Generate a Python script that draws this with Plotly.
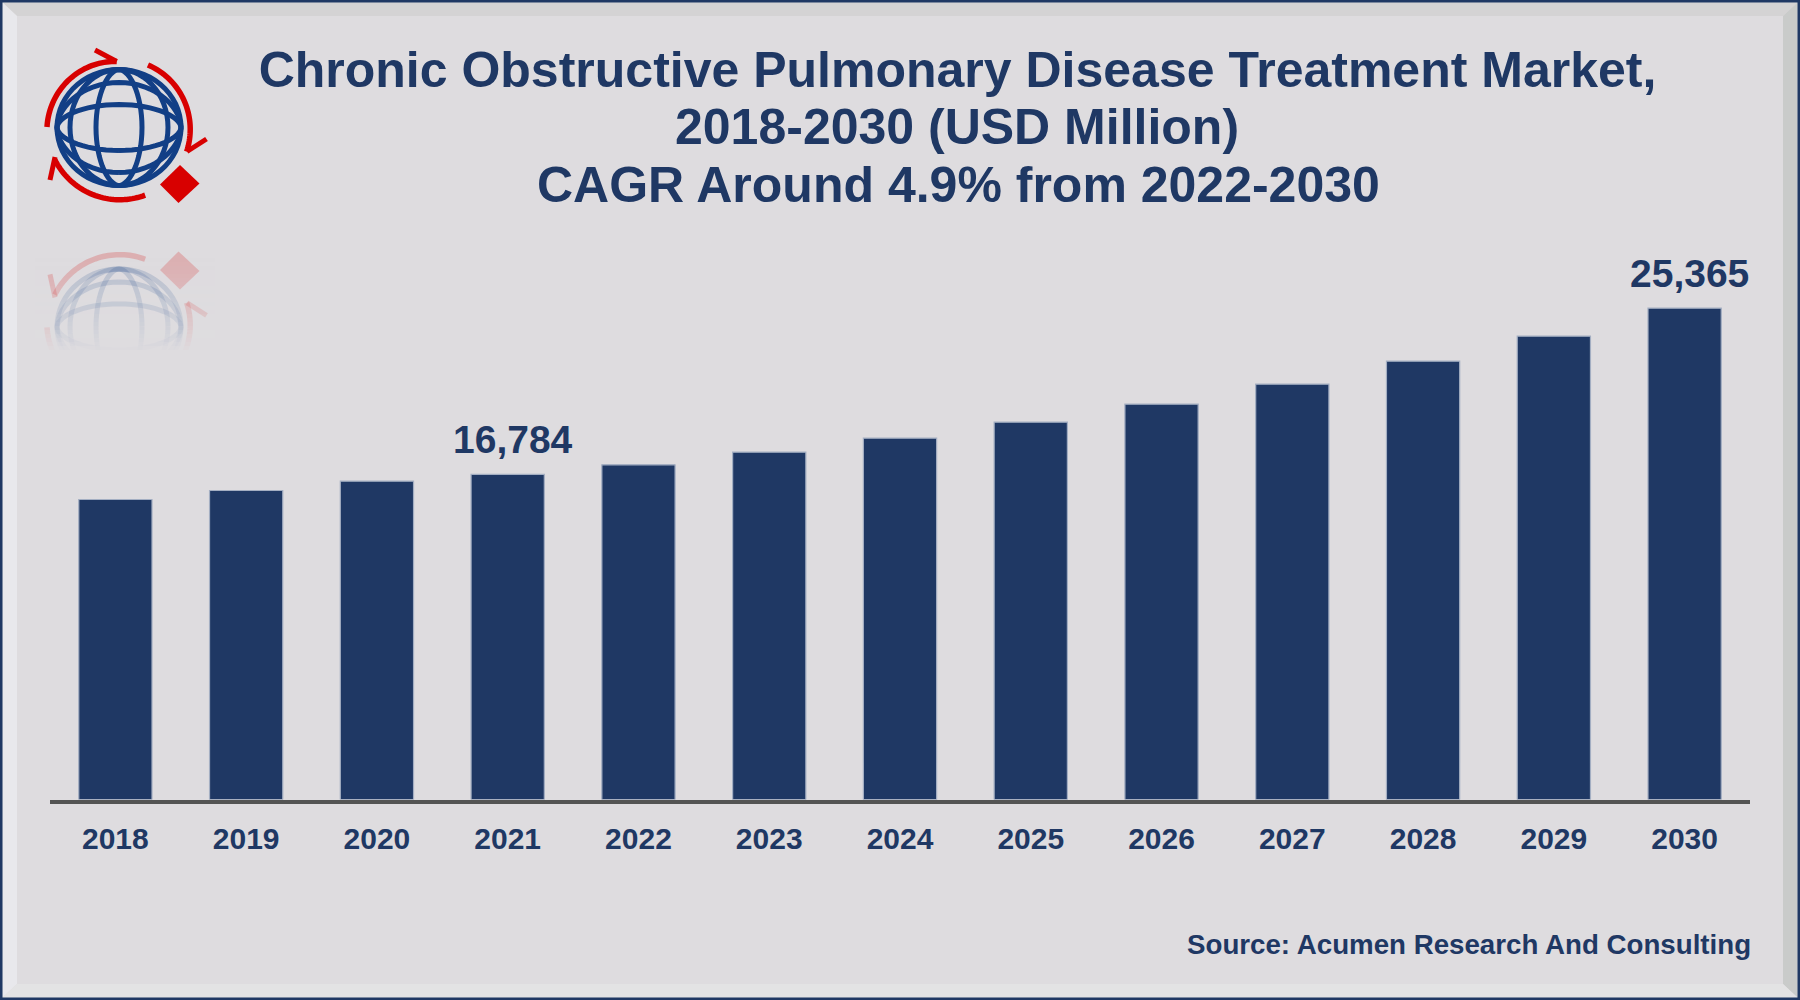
import math
import plotly.graph_objects as go

years = ["2018", "2019", "2020", "2021", "2022", "2023", "2024", "2025", "2026", "2027", "2028", "2029", "2030"]
market_values = [15488, 15953, 16433, 16784, 17280, 17930, 18653, 19480, 20409, 21441, 22629, 23920, 25365]
labelled_years = ["2021", "2030"]
title_lines = ["Chronic Obstructive Pulmonary Disease Treatment Market,",
               "2018-2030 (USD Million)",
               "CAGR Around 4.9% from 2022-2030"]
source_text = "Source: Acumen Research And Consulting"

NAVY = "#1F3864"
BG = "#DEDCDF"
GLOBE = "#123F86"
RED = "#D80000"
W, H = 1800, 1000
FONT = "Liberation Sans"


def px(x):
    return x / W


def py(y):
    return 1 - y / H


def path(points, close=False):
    s = "M " + " L ".join(f"{px(x):.5f},{py(y):.5f}" for x, y in points)
    return s + (" Z" if close else "")


def ell(cx, cy, rx, ry):
    return [(cx + rx * math.cos(math.radians(a)), cy + ry * math.sin(math.radians(a))) for a in range(0, 361, 6)]


def lens(cx, cy, rx, ry, vertical=True):
    pts = []
    for a in range(0, 361, 6):
        c, s = math.cos(math.radians(a)), math.sin(math.radians(a))
        bulge = abs(c) ** 1.1 * (1 if c >= 0 else -1)
        if vertical:
            pts.append((cx + rx * bulge, cy + ry * s))
        else:
            pts.append((cx + rx * s, cy + ry * bulge))
    return pts


def arc(cx, cy, r0, r1, a0, a1, n=40):
    pts = []
    for i in range(n + 1):
        t = i / n
        r = r0 + (r1 - r0) * t
        a = math.radians(a0 + (a1 - a0) * t)
        pts.append((cx + r * math.cos(a), cy - r * math.sin(a)))
    return pts


def logo_shapes(mirror=None, blue_op=1.0, red_op=1.0):
    m = (lambda p: [(x, mirror - y) for x, y in p]) if mirror else (lambda p: p)
    cx, cy = 119, 127.5
    out = []

    def line(pts, color, width, op):
        out.append(dict(type="path", xref="paper", yref="paper", path=path(m(pts)),
                        line=dict(color=color, width=width), opacity=op))

    line(ell(cx, cy, 62, 58), GLOBE, 5, blue_op)
    line(ell(cx, cy, 49, 58), GLOBE, 5, blue_op)
    line(lens(cx, cy, 23, 58), GLOBE, 5, blue_op)
    line(lens(cx, cy, 62, 45, vertical=False), GLOBE, 5, blue_op)
    line(lens(cx, cy, 62, 23, vertical=False), GLOBE, 5, blue_op)
    line(arc(119, 127, 72, 65.5, 180, 92), RED, 5.5, red_op)
    line([(95, 50), (116.7, 61.5)], RED, 5, red_op)
    line(arc(119, 127, 68.5, 72, 65, -20), RED, 5.5, red_op)
    line([(206.5, 139), (187, 151.5)], RED, 5, red_op)
    line(arc(119, 127, 73, 72, -69, -153), RED, 5.5, red_op)
    line([(50, 180), (55, 157)], RED, 5, red_op)
    out.append(dict(type="path", xref="paper", yref="paper",
                    path=path(m([(180, 165), (199.5, 183.5), (178.5, 203), (160, 184.5)]), True),
                    fillcolor=RED, line=dict(width=0), opacity=red_op))
    return out


def poly(points, color):
    return dict(type="path", xref="paper", yref="paper", path=path(points, True),
                fillcolor=color, line=dict(width=0))


shapes = [
    poly([(2.5, 2.5), (W - 2.5, 2.5), (W - 17, 16), (17, 16)], "#D4D3D4"),
    poly([(2.5, 2.5), (17, 16), (17, H - 16), (2.5, H - 2.5)], "#E8E8EC"),
    poly([(W - 2.5, 2.5), (W - 17, 16), (W - 17, H - 16), (W - 2.5, H - 2.5)], "#C9CBCA"),
    poly([(2.5, H - 2.5), (17, H - 16), (W - 17, H - 16), (W - 2.5, H - 2.5)], "#E3E3E4"),
    poly([(0, 0), (W, 0), (W, 2.5), (0, 2.5)], NAVY),
    poly([(0, H), (W, H), (W, H - 2.5), (0, H - 2.5)], NAVY),
    poly([(0, 0), (2.5, 0), (2.5, H), (0, H)], NAVY),
    poly([(W, 0), (W - 2.5, 0), (W - 2.5, H), (W, H)], NAVY),
]
shapes += logo_shapes()
shapes += logo_shapes(mirror=454.4, blue_op=0.17, red_op=0.2)
# fade-out of the reflection
for i in range(26):
    y0 = 250 + i * 4
    shapes.append(dict(type="rect", xref="paper", yref="paper", x0=px(35), x1=px(215),
                       y0=py(y0), y1=py(y0 + 4), fillcolor=BG, line=dict(width=0),
                       opacity=min(1, (i / 25) ** 1.6)))
shapes.append(dict(type="rect", xref="paper", yref="paper", x0=px(35), x1=px(215),
                   y0=py(353), y1=py(425), fillcolor=BG, line=dict(width=0)))

fig = go.Figure(go.Bar(
    x=years, y=market_values, width=0.56,
    marker=dict(color=NAVY, line=dict(color="#A3AEC2", width=1.2)),
    hoverinfo="skip",
))

annotations = [
    dict(x=years.index(yr), y=market_values[years.index(yr)], xref="x", yref="y",
         text=f"{market_values[years.index(yr)]:,}",
         showarrow=False, xshift=5, yshift=35, yanchor="middle",
         font=dict(family=FONT, size=39, color=NAVY, weight="bold"))
    for yr in labelled_years
]
annotations.append(dict(x=px(1753), y=py(944), xref="paper", yref="paper", text=source_text, showarrow=False,
                        xanchor="right", yanchor="middle",
                        font=dict(family=FONT, size=27.7, color=NAVY, weight="bold")))
for line_text, xc, yc in zip(title_lines[1:], [957, 958], [127, 184.5]):
    annotations.append(dict(x=px(xc), y=py(yc), xref="paper", yref="paper", text=line_text, showarrow=False,
                            xanchor="center", yanchor="middle",
                            font=dict(family=FONT, size=50, color=NAVY, weight="bold")))

fig.update_layout(
    width=W, height=H, autosize=False,
    margin=dict(l=0, r=0, t=0, b=0, autoexpand=False),
    paper_bgcolor=BG, plot_bgcolor="rgba(0,0,0,0)",
    showlegend=False,
    title=dict(text=title_lines[0], x=px(957.5), xanchor="center", xref="paper",
               y=py(69), yanchor="middle", yref="paper",
               font=dict(family=FONT, size=50, color=NAVY, weight="bold")),
    xaxis=dict(domain=[px(50), px(1750)], type="category", range=[-0.5, 12.5], showgrid=False, zeroline=False,
               showline=True, linecolor="#545454", linewidth=4,
               ticks="outside", ticklen=9, tickcolor="rgba(0,0,0,0)",
               tickfont=dict(family=FONT, size=30, color=NAVY, weight="bold")),
    yaxis=dict(domain=[py(799.5), py(218.4)], range=[0, 30000], visible=False),
    shapes=shapes,
    annotations=annotations,
)

fig.write_html("out.html", config=dict(displayModeBar=False),
               post_script="document.body.style.margin='0';document.body.style.overflow='hidden';")
